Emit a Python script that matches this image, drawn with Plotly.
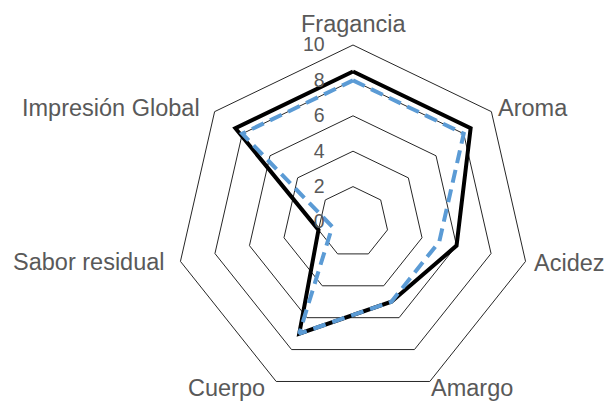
import plotly.graph_objects as go

categories = ["Fragancia", "Aroma", "Acidez", "Amargo", "Cuerpo", "Sabor residual", "Impresión Global"]
serie_negra = [8.5, 8.5, 6.0, 5.0, 7.0, 2.0, 8.5]
serie_azul = [8.0, 8.0, 5.0, 5.0, 7.0, 1.2, 8.0]
tick_vals = [0, 2, 4, 6, 8, 10]
tick_text = ["0", "2", "4", "6", "8", "10"]

# label placement (pixels from top-left of the 607x401 page), layout only
label_px = [(353, 24), (532.5, 108), (569.7, 263), (471.7, 388),
            (226.7, 388), (89.3, 261.5), (110.8, 108)]

def closed(v):
    return list(v) + [v[0]]

fig = go.Figure()
fig.add_trace(go.Scatterpolar(
    r=closed(serie_negra), theta=closed(categories), mode="lines",
    line=dict(color="#000000", width=4), showlegend=False))
fig.add_trace(go.Scatterpolar(
    r=closed(serie_azul), theta=closed(categories), mode="lines",
    line=dict(color="#5B9BD5", width=4, dash="13px,7px"), showlegend=False))

W, H = 607, 401
cx, cy, R = 353, 222, 177
annotations = []
for name, (px, py) in zip(categories, label_px):
    annotations.append(dict(
        text=name, x=px / W, y=1 - py / H, xref="paper", yref="paper",
        xanchor="center", yanchor="middle", showarrow=False,
        font=dict(size=23.5, color="#595959")))

fig.update_layout(
    width=W, height=H,
    margin=dict(l=0, r=0, t=0, b=0),
    paper_bgcolor="white", plot_bgcolor="white",
    font=dict(family="Liberation Sans, Arial, sans-serif", color="#595959"),
    annotations=annotations,
    polar=dict(
        domain=dict(x=[(cx - R) / W, (cx + R) / W],
                    y=[(H - cy - R) / H, (H - cy + R) / H]),
        bgcolor="white",
        gridshape="linear",
        angularaxis=dict(
            direction="clockwise", rotation=90,
            showgrid=False, showline=True, linecolor="#262626", linewidth=1,
            ticks="", showticklabels=False),
        radialaxis=dict(
            range=[0, 10], tickvals=tick_vals, ticktext=tick_text,
            angle=90, tickangle=90, side="counterclockwise",
            showline=False, gridcolor="#262626", gridwidth=1,
            ticks="outside", ticklen=21, tickcolor="rgba(0,0,0,0)",
            tickfont=dict(size=19.5, color="#595959")),
    ),
)
fig.write_html("out.html")
